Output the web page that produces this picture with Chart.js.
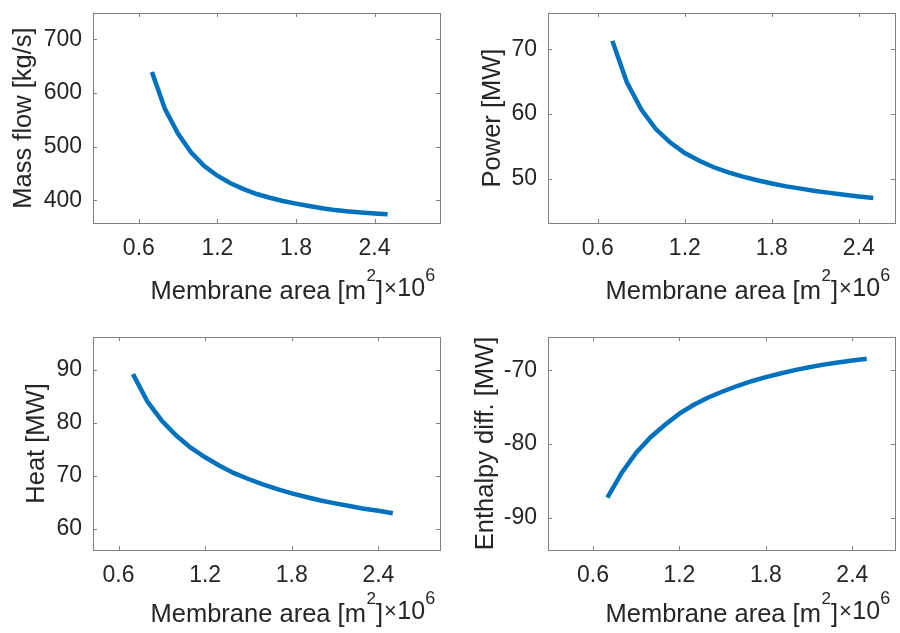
<!DOCTYPE html>
<html>
<head>
<meta charset="utf-8">
<script src="https://cdn.jsdelivr.net/npm/chart.js@4.4.1/dist/chart.umd.min.js"></script>
<style>
  html, body { margin: 0; padding: 0; background: #fff; }
  #wrap { position: relative; width: 900px; height: 633px; }
  #wrap canvas { position: absolute; left: 0; top: 0; }
</style>
</head>
<body>
<div id="wrap"></div>
<script>
// membrane area (x 10^6 m2)
const area = [0.7, 0.8, 0.9, 1.0, 1.1, 1.2, 1.3, 1.4, 1.5, 1.6, 1.7, 1.8, 1.9, 2.0, 2.1, 2.2, 2.3, 2.4, 2.5];

const massFlow = [639, 570, 524, 489, 464, 446, 432, 421, 412, 405, 399, 394, 389.5, 385.5, 382, 379.5, 377.5, 375.8, 374.3];
const power    = [71.3, 64.9, 60.7, 57.7, 55.6, 54.0, 52.8, 51.8, 51.0, 50.35, 49.8, 49.3, 48.85, 48.5, 48.15, 47.85, 47.55, 47.3, 47.05];
const heat     = [89.2, 84.0, 80.4, 77.6, 75.3, 73.5, 71.9, 70.5, 69.4, 68.4, 67.5, 66.7, 66.0, 65.35, 64.8, 64.3, 63.8, 63.4, 62.95];
const enthalpy = [-87.3, -83.9, -81.2, -79.1, -77.4, -75.9, -74.7, -73.7, -72.9, -72.15, -71.5, -70.95, -70.45, -70.0, -69.6, -69.25, -68.95, -68.7, -68.45];

const xTicks = [0.6, 1.2, 1.8, 2.4];
const massTicks = [400, 500, 600, 700];
const powerTicks = [50, 60, 70];
const heatTicks = [60, 70, 80, 90];
const enthTicks = [-90, -80, -70];

const FONT = '"Liberation Sans", Arial, Helvetica, sans-serif';
const TEXT = '#262626';
const AXIS = '#808080';
const BLUE = '#0072BD';
const W = 900, H = 633;

const panels = [
  { vals: massFlow, yTicks: massTicks, yLabel: 'Mass flow [kg/s]', box: {l: 93, r: 440, t: 13, b: 223},
    x: [0.25, 2.9], y: [358, 749], yTitleX: 24, xTitleGap: 76 },
  { vals: power, yTicks: powerTicks, yLabel: 'Power [MW]', box: {l: 548, r: 895, t: 13, b: 223},
    x: [0.256, 2.65], y: [43.2, 75.6], yTitleX: 493, xTitleGap: 76 },
  { vals: heat, yTicks: heatTicks, yLabel: 'Heat [MW]', box: {l: 93, r: 440, t: 337, b: 550},
    x: [0.423, 2.827], y: [56, 96.2], yTitleX: 37, xTitleGap: 72 },
  { vals: enthalpy, yTicks: enthTicks, yLabel: 'Enthalpy diff. [MW]', box: {l: 548, r: 895, t: 337, b: 550},
    x: [0.288, 2.696], y: [-94.4, -65.5], yTitleX: 486, xTitleGap: 72 }
];

// box with inward ticks on all sides, matlab style
const boxPlugin = {
  id: 'boxPlugin',
  afterDraw(chart) {
    const {ctx, chartArea: a, scales} = chart;
    ctx.save();
    ctx.strokeStyle = AXIS;
    ctx.lineWidth = 1;
    ctx.strokeRect(Math.round(a.left) + 0.5, Math.round(a.top) + 0.5,
      Math.round(a.right - a.left), Math.round(a.bottom - a.top));
    ctx.beginPath();
    scales.x.ticks.forEach(t => {
      const px = Math.round(scales.x.getPixelForValue(t.value)) + 0.5;
      ctx.moveTo(px, a.bottom); ctx.lineTo(px, a.bottom - 4);
      ctx.moveTo(px, a.top); ctx.lineTo(px, a.top + 4);
    });
    scales.y.ticks.forEach(t => {
      const py = Math.round(scales.y.getPixelForValue(t.value)) + 0.5;
      ctx.moveTo(a.left, py); ctx.lineTo(a.left + 4, py);
      ctx.moveTo(a.right, py); ctx.lineTo(a.right - 4, py);
    });
    ctx.stroke();
    ctx.restore();
  }
};

// axis titles, drawn by hand to get the superscripts
const titlePlugin = {
  id: 'titlePlugin',
  afterDraw(chart, args, opts) {
    const {ctx, chartArea: a} = chart;
    const big = '25.5px ' + FONT;
    ctx.save();
    ctx.fillStyle = TEXT;
    // y title
    ctx.translate(opts.yTitleX, (a.top + a.bottom) / 2);
    ctx.rotate(-Math.PI / 2);
    ctx.font = big;
    ctx.textAlign = 'center';
    ctx.textBaseline = 'middle';
    ctx.fillText(opts.yLabel, 0, 0);
    ctx.restore();

    // x title: Membrane area [m^2] and the x10^6 exponent after it
    ctx.save();
    ctx.fillStyle = TEXT;
    ctx.textAlign = 'left';
    ctx.textBaseline = 'alphabetic';
    const base = a.bottom + opts.xTitleGap;
    const sup = '17px ' + FONT;
    const p1 = 'Membrane area [m', p2 = '2', p3 = ']';
    ctx.font = big; const w1 = ctx.measureText(p1).width, w3 = ctx.measureText(p3).width;
    ctx.font = sup; const w2 = ctx.measureText(p2).width;
    let x = (a.left + a.right) / 2 - (w1 + w2 + w3) / 2;
    ctx.font = big; ctx.fillText(p1, x, base); x += w1 + 0.5;
    ctx.font = sup; ctx.fillText(p2, x, base - 18); x += w2;
    ctx.font = big; ctx.fillText(p3, x, base); x += w3 + 1;
    ctx.font = '22px ' + FONT; ctx.fillText('\u00d7', x, base - 4); x += ctx.measureText('\u00d7').width + 0.5;
    ctx.font = '25px ' + FONT; ctx.fillText('10', x, base - 3); x += ctx.measureText('10').width;
    ctx.font = '18px ' + FONT; ctx.fillText('6', x, base - 18);
    ctx.restore();
  }
};

const wrap = document.getElementById('wrap');

panels.forEach(p => {
  const canvas = document.createElement('canvas');
  canvas.width = W; canvas.height = H;
  wrap.appendChild(canvas);
  const tickFont = {family: FONT, size: 23};
  new Chart(canvas.getContext('2d'), {
    type: 'line',
    data: {
      datasets: [{
        data: area.map((a, i) => ({x: a, y: p.vals[i]})),
        borderColor: BLUE,
        borderWidth: 4.5,
        pointRadius: 0,
        tension: 0,
        fill: false
      }]
    },
    options: {
      responsive: false,
      animation: false,
      events: [],
      layout: { padding: { left: 0, right: W - p.box.r, top: p.box.t, bottom: 0 } },
      plugins: {
        legend: { display: false },
        tooltip: { enabled: false },
        titlePlugin: { yLabel: p.yLabel, yTitleX: p.yTitleX, xTitleGap: p.xTitleGap }
      },
      scales: {
        x: {
          type: 'linear', min: p.x[0], max: p.x[1],
          afterFit: s => { s.height = H - p.box.b; s.paddingLeft = 0; s.paddingRight = 0; },
          afterBuildTicks: s => { s.ticks = xTicks.map(v => ({value: v})); },
          grid: { display: false, drawTicks: false, tickLength: 0 },
          border: { display: false },
          ticks: { font: tickFont, color: TEXT, padding: 12, maxRotation: 0, autoSkip: false, callback: v => v.toFixed(1) }
        },
        y: {
          type: 'linear', min: p.y[0], max: p.y[1],
          afterFit: s => { s.width = p.box.l; s.paddingTop = 0; s.paddingBottom = 0; },
          afterBuildTicks: s => { s.ticks = p.yTicks.map(v => ({value: v})); },
          grid: { display: false, drawTicks: false, tickLength: 0 },
          border: { display: false },
          ticks: { font: tickFont, color: TEXT, padding: 11, autoSkip: false, callback: v => String(v) }
        }
      }
    },
    plugins: [boxPlugin, titlePlugin]
  });
});
</script>
</body>
</html>
